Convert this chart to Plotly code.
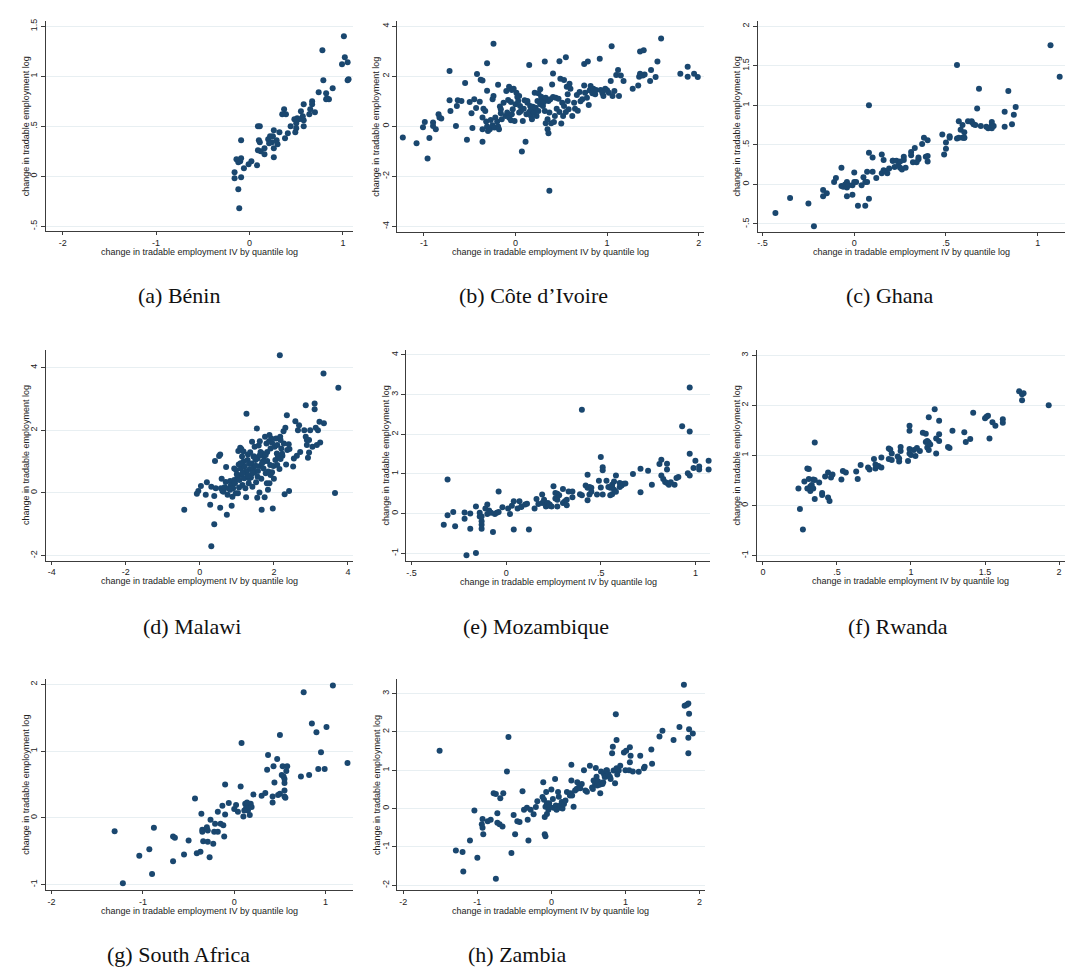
import plotly.graph_objects as go

# ---------------- data ----------------
benin_x = [1.01, 0.78, 1.02, 1.05, 0.99, 1.06, 1.05, 0.79, 0.89, 0.74, 0.82, 0.82, 0.85, 0.83, 0.67, 0.67, 0.58,
           0.37, 0.65, 0.70, 0.55, 0.64, 0.39, 0.35, 0.57, 0.51, 0.48, 0.53, 0.58, 0.50, 0.44, 0.58, 0.09, 0.11,
           0.50, 0.26, 0.32, 0.41, 0.49, 0.25, 0.22, 0.38, 0.20, 0.29, 0.10, -0.09, 0.24, 0.30, 0.11, 0.21, 0.12,
           0.16, 0.26, 0.09, 0.16, 0.26, 0.02, -0.01, 0.08, -0.09, -0.14, -0.10, -0.12, -0.06, -0.16, -0.09, -0.16,
           -0.12, -0.11]
benin_y = [1.40, 1.26, 1.19, 1.14, 1.12, 0.97, 0.96, 0.96, 0.88, 0.84, 0.83, 0.77, 0.77, 0.78, 0.75, 0.72, 0.72,
           0.67, 0.67, 0.64, 0.65, 0.62, 0.62, 0.62, 0.60, 0.58, 0.57, 0.57, 0.56, 0.53, 0.50, 0.50, 0.50, 0.50,
           0.48, 0.46, 0.44, 0.43, 0.44, 0.40, 0.40, 0.38, 0.37, 0.36, 0.36, 0.36, 0.34, 0.32, 0.34, 0.33, 0.25,
           0.28, 0.28, 0.26, 0.22, 0.19, 0.15, 0.12, 0.11, 0.18, 0.17, 0.15, 0.14, 0.08, 0.04, -0.01, -0.02,
           -0.13, -0.32]

civ_x = [-1.23, -1.08, -0.96, -0.94, -1.01, -0.99, -0.90, -0.90, -0.87, -0.84, -0.83, -0.81, -0.72, -0.72, -0.71,
         -0.65, -0.64, -0.63, -0.59, -0.55, -0.53, -0.50, -0.48, -0.47, -0.45, -0.43, -0.42, -0.39, -0.38, -0.36,
         -0.36, -0.36, -0.36, -0.35, -0.33, -0.31, -0.31, -0.32, -0.31, -0.30, -0.28, -0.27, -0.25, -0.25, -0.24,
         -0.24, -0.23, -0.22, -0.20, -0.19, -0.19, -0.18, -0.17, -0.16, -0.16, -0.15, -0.13, -0.11, -0.10, -0.09,
         -0.08, -0.07, -0.07, -0.05, -0.05, -0.04, -0.04, -0.03, -0.02, -0.01, 0.00, 0.01, 0.02, 0.03, 0.04, 0.04,
         0.05, 0.06, 0.07, 0.08, 0.09, 0.10, 0.11, 0.12, 0.13, 0.13, 0.15, 0.15, 0.16, 0.17, 0.17, 0.18, 0.19,
         0.20, 0.21, 0.22, 0.23, 0.24, 0.25, 0.25, 0.27, 0.27, 0.28, 0.29, 0.30, 0.31, 0.32, 0.32, 0.33, 0.33,
         0.35, 0.35, 0.36, 0.37, 0.36, 0.37, 0.38, 0.39, 0.40, 0.41, 0.41, 0.42, 0.43, 0.44, 0.45, 0.47, 0.48,
         0.48, 0.49, 0.50, 0.51, 0.52, 0.53, 0.53, 0.55, 0.55, 0.56, 0.57, 0.57, 0.58, 0.59, 0.60, 0.62, 0.64,
         0.65, 0.67, 0.68, 0.70, 0.71, 0.73, 0.75, 0.75, 0.76, 0.78, 0.79, 0.80, 0.81, 0.82, 0.84, 0.85, 0.87,
         0.88, 0.92, 0.93, 0.95, 0.96, 0.98, 1.00, 1.02, 1.04, 1.05, 1.06, 1.08, 1.10, 1.12, 1.13, 1.15, 1.18,
         1.28, 1.34, 1.35, 1.36, 1.36, 1.40, 1.39, 1.41, 1.47, 1.48, 1.53, 1.55, 1.59, 1.80, 1.88, 1.88, 1.95,
         1.99]
civ_y = [-0.45, -0.68, -1.29, -0.47, -0.04, 0.17, 0.15, 0.01, -0.12, 0.48, 0.35, 0.31, 2.21, 1.04, 0.61,
         0.01, 0.81, 1.04, 1.01, 1.73, -0.54, 0.97, 0.52, -0.07, 1.08, 0.73, 2.09, 0.98, 1.86, 1.83,
         -0.62, 0.35, -0.12, 0.70, 0.61, 1.42, 2.52, 0.19, -0.01, -0.19, -0.12, 0.25, 0.04, 1.08, 3.30,
         1.21, -0.05, 0.35, 0.19, 1.66, -0.01, -0.12, 0.79, 0.68, 0.52, 0.28, 0.94, 0.41, 1.41, 0.55,
         1.05, 0.35, 1.58, 0.24, 0.97, 1.45, 0.48, 0.68, 1.50, 0.21, 0.88, 1.34, 1.17, 1.01, 0.55, 1.21,
         0.81, 0.61, -1.01, 0.21, 0.70, 1.04, -0.62, 0.48, 0.94, 1.01, 0.57, 2.45, 0.81, 0.41, 0.68, 0.28, 0.78,
         0.55, 1.34, 0.74, 0.41, 1.01, 1.32, 0.61, 0.88, 1.48, 1.18, 1.01, 0.81, 0.97, 2.59, 0.61, 0.12, 1.14,
         0.28, -0.12, -0.28, -2.58, 1.01, 0.55, 1.08, 0.12, 1.67, 2.11, 1.17, 0.17, 0.41, 1.14, 0.70, 1.10, 2.60,
         0.57, 1.90, 0.11, 0.94, 0.41, 1.85, 0.81, 2.76, 0.57, 1.58, 1.01, 1.28, 0.68, 1.70, 1.50, 0.41, 0.94,
         0.70, 1.25, 0.62, 1.37, 1.00, 1.08, 2.49, 1.63, 1.34, 1.14, 2.59, 0.85, 1.44, 1.61, 1.32, 1.50, 1.28,
         1.45, 2.70, 1.45, 1.32, 1.21, 1.50, 1.44, 1.34, 1.81, 3.20, 1.21, 1.41, 2.05, 2.25, 1.21, 2.03, 1.81,
         1.50, 1.63, 1.98, 2.10, 2.99, 3.04, 2.03, 2.07, 1.81, 2.25, 1.97, 2.59, 3.51, 2.10, 2.38, 1.98, 2.10,
         1.97]

ghana_x = [-0.43, -0.35, -0.25, -0.22, -0.17, -0.17, -0.15, -0.11, -0.10, -0.07, -0.07, -0.06, -0.05, -0.04,
           -0.04, -0.04, -0.03, -0.01, -0.01, 0.00, 0.00, 0.01, 0.02, 0.04, 0.05, 0.06, 0.06, 0.07, 0.07, 0.08,
           0.08, 0.08, 0.10, 0.10, 0.12, 0.15, 0.15, 0.16, 0.16, 0.17, 0.18, 0.19, 0.21, 0.21, 0.22, 0.23, 0.24,
           0.25, 0.25, 0.26, 0.27, 0.27, 0.28, 0.31, 0.31, 0.32, 0.33, 0.34, 0.35, 0.35, 0.37, 0.38, 0.39, 0.40,
           0.40, 0.40, 0.48, 0.49, 0.50, 0.50, 0.52, 0.52, 0.56, 0.56, 0.57, 0.58, 0.59, 0.59, 0.60, 0.60, 0.60,
           0.57, 0.62, 0.64, 0.64, 0.65, 0.66, 0.67, 0.68, 0.69, 0.72, 0.73, 0.75, 0.75, 0.75, 0.76, 0.82, 0.82,
           0.84, 0.86, 0.87, 0.88, 1.07, 1.12]
ghana_y = [-0.36, -0.17, -0.24, -0.53, -0.15, -0.07, -0.11, 0.03, 0.08, 0.21, -0.02, -0.03, 0.00, 0.03,
           -0.04, -0.15, -0.01, -0.13, -0.01, 0.15, 0.03, 0.03, -0.27, -0.01, 0.09, 0.03, -0.27, 0.16, 0.03, 0.40,
           -0.18, 1.00, 0.34, 0.16, 0.08, 0.14, 0.38, 0.18, 0.31, 0.17, 0.14, 0.20, 0.30, 0.30, 0.22, 0.30, 0.24,
           0.29, 0.21, 0.19, 0.35, 0.31, 0.21, 0.41, 0.37, 0.28, 0.46, 0.28, 0.32, 0.34, 0.51, 0.59, 0.35, 0.29,
           0.56, 0.36, 0.63, 0.38, 0.53, 0.45, 0.59, 0.61, 1.51, 0.58, 0.59, 0.69, 0.75, 0.59, 0.59, 0.66, 0.59,
           0.80, 0.80, 0.79, 0.80, 0.76, 0.75, 0.96, 1.21, 0.74, 0.73, 0.71, 0.71, 0.79, 0.75, 0.74, 0.92, 0.73,
           1.18, 0.76, 0.88, 0.98, 1.76, 1.36]

malawi_x = [-0.42, -0.08, -0.04, 0.03, 0.19, 0.16, 0.28, 0.31, 0.31, 0.39, 0.39, 0.41, 0.43, 0.52, 0.55, 0.55,
            0.57, 0.59, 0.61, 0.64, 0.67, 0.71, 0.73, 0.75, 0.77, 0.82, 0.84, 0.86, 0.88, 0.90, 0.93, 0.95, 0.98,
            1.02, 1.03, 1.04, 1.05, 1.07, 1.09, 1.11, 1.12, 1.12, 1.14, 1.15, 1.18, 1.18, 1.20, 1.21, 1.23, 1.25,
            1.26, 1.27, 1.29, 1.30, 1.32, 1.33, 1.35, 1.38, 1.39, 1.41, 1.42, 1.44, 1.45, 1.47, 1.48, 1.50, 1.52,
            1.54, 1.55, 1.56, 1.57, 1.59, 1.61, 1.62, 1.63, 1.64, 1.66, 1.67, 1.69, 1.70, 1.72, 1.73, 1.75, 1.76,
            1.78, 1.80, 1.81, 1.82, 1.84, 1.85, 1.87, 1.88, 1.90, 1.91, 1.93, 1.95, 1.97, 1.99, 2.00, 2.02, 2.04,
            2.06, 2.08, 2.09, 2.11, 2.16, 2.15, 2.17, 2.18, 2.20, 2.23, 2.26, 2.27, 2.29, 2.31, 2.33, 2.35, 2.36,
            2.41, 2.42, 2.52, 2.54, 2.58, 2.62, 2.65, 2.68, 2.71, 2.82, 2.86, 2.86, 2.89, 2.89, 2.92, 2.95, 2.98,
            2.95, 3.04, 3.10, 3.10, 3.13, 3.16, 3.19, 3.23, 3.25, 3.34, 3.35, 3.65, 3.74,
            0.93, 1.24, 1.42, 1.51, 1.73, 1.91, 2.09, 1.47, 1.33, 1.06, 0.82, 0.97, 1.56, 1.82, 2.18, 1.78, 1.15,
            1.00, 1.36, 1.62, 1.88, 2.40, 0.70, 1.10, 1.95, 2.22, 1.30, 1.68]
malawi_y = [-0.54, -0.03, 0.06, 0.22, 0.34, -0.06, -0.38, 0.20, -1.70, -1.00, -0.10, 1.02, 0.15, 1.18, 1.23, -0.47,
            0.15, 0.45, 0.06, 0.04, 0.18, 0.83, -0.70, -0.06, 0.15, 0.38, 0.25, -0.41, -0.12, 0.15, 0.41, 0.31, 0.73,
            0.52, -0.01, 1.34, 0.91, 0.41, 1.44, 0.78, 1.40, 0.57, 1.16, 0.25, 1.32, 1.00, 0.47, 0.84, 0.15, -0.14,
            2.53, 0.63, 1.05, 1.23, 0.31, 0.94, 0.76, 0.49, 0.94, 1.63, 0.20, 0.78, 1.16, 0.66, 1.47, 1.05, 0.34,
            2.06, -0.15, 1.10, 0.70, 1.51, 0.01, 1.65, 0.86, 1.31, 0.45, -0.54, 1.26, 1.00, 0.78, 1.16, -0.14, 1.79,
            0.63, 1.58, 0.31, 1.02, 0.10, 0.68, 1.65, 0.31, 0.89, 1.42, 1.74, 0.66, -0.50, 0.86, 0.45, 1.47, 1.05,
            1.74, 1.26, 1.53, 1.16, 4.39, 0.76, 1.79, 1.08, 1.42, 1.19, 1.97, 1.58, -0.04, 2.08, 0.91, 2.48, 1.37,
            0.06, 1.40, 0.84, 1.10, 2.29, 1.19, 2.00, 2.16, 1.31, 2.00, 1.79, 2.80, 1.69, 1.53, 1.12, 1.29, 2.00,
            1.69, 1.47, 2.85, 2.67, 2.08, 1.53, 2.00, 2.27, 1.61, 3.81, 2.22, 0.00, 3.36,
            0.78, 0.68, 0.63, 0.87, 1.00, 0.57, 0.89, 1.16, 0.47, 0.17, 0.10, -0.01, 0.52, 1.31, 1.69, 1.21, 0.63,
            0.60, 1.30, 1.20, 1.85, 1.55, 0.35, 0.95, 1.60, 1.25, 0.55, 0.95]

mozambique_x = [-0.33, -0.31, -0.31, -0.28, -0.27, -0.22, -0.22, -0.21, -0.19, -0.19, -0.16, -0.16, -0.14, -0.14,
                -0.13, -0.13, -0.13, -0.13, -0.11, -0.10, -0.10, -0.09, -0.08, -0.07, -0.06, -0.05, -0.04, -0.04,
                -0.02, 0.01, 0.02, 0.03, 0.04, 0.04, 0.06, 0.07, 0.08, 0.08, 0.10, 0.11, 0.12, 0.15, 0.16, 0.17,
                0.19, 0.19, 0.20, 0.21, 0.22, 0.23, 0.23, 0.24, 0.25, 0.26, 0.26, 0.27, 0.27, 0.27, 0.28, 0.30,
                0.30, 0.31, 0.32, 0.32, 0.33, 0.35, 0.35, 0.39, 0.40, 0.40, 0.42, 0.43, 0.43, 0.43, 0.44, 0.44,
                0.45, 0.45, 0.48, 0.49, 0.50, 0.50, 0.51, 0.51, 0.51, 0.53, 0.54, 0.55, 0.55, 0.56, 0.56, 0.56,
                0.57, 0.57, 0.58, 0.58, 0.60, 0.60, 0.61, 0.62, 0.63, 0.67, 0.71, 0.71, 0.75, 0.77, 0.81, 0.82,
                0.82, 0.83, 0.84, 0.85, 0.85, 0.85, 0.86, 0.87, 0.89, 0.90, 0.91, 0.93, 0.96, 0.97, 0.97, 0.97,
                0.97, 0.99, 1.00, 1.02, 1.02, 1.07, 1.07]
mozambique_y = [-0.28, 0.86, -0.04, 0.04, -0.32, 0.03, -0.13, -1.05, -0.38, 0.00, -0.99, 0.18, 0.02, -0.07,
                -0.28, -0.38, -0.19, -0.07, 0.13, 0.23, -0.01, 0.08, 0.02, -0.46, -0.01, 0.02, 0.04, 0.56,
                0.16, 0.13, -0.01, 0.20, 0.31, -0.40, 0.13, 0.31, 0.17, 0.18, 0.23, 0.25, -0.40, 0.13, 0.37, 0.24,
                0.48, 0.27, 0.35, 0.18, 0.27, 0.20, 0.23, 0.18, 0.69, 0.52, 0.38, 0.18, 0.50, 0.35, 0.46, 0.27,
                0.62, 0.31, 0.21, 0.35, 0.56, 0.41, 0.56, 0.49, 0.46, 2.62, 0.71, 0.65, 0.98, 0.34, 0.48, 0.67,
                0.55, 0.65, 0.48, 0.83, 1.43, 0.66, 1.17, 1.09, 0.48, 0.83, 0.67, 0.46, 0.65, 0.49, 0.73, 0.67,
                0.81, 0.60, 0.96, 0.55, 0.77, 0.67, 0.71, 0.75, 0.76, 1.00, 0.54, 1.13, 1.08, 0.73, 1.25, 0.96,
                1.36, 0.87, 0.80, 0.77, 1.26, 1.11, 0.73, 0.79, 0.73, 0.90, 0.92, 2.20, 1.02, 2.07, 3.18, 1.51,
                0.96, 1.15, 1.33, 1.19, 1.11, 1.33, 1.11]

rwanda_x = [0.24, 0.25, 0.27, 0.28, 0.30, 0.31, 0.30, 0.31, 0.32, 0.32, 0.33, 0.34, 0.34, 0.35, 0.35, 0.35, 0.38,
            0.40, 0.40, 0.42, 0.44, 0.44, 0.45, 0.46, 0.47, 0.53, 0.54, 0.56, 0.63, 0.64, 0.66, 0.71, 0.72, 0.75,
            0.76, 0.76, 0.78, 0.80, 0.80, 0.85, 0.85, 0.86, 0.87, 0.87, 0.91, 0.92, 0.92, 0.93, 0.93, 0.98, 0.99,
            0.99, 0.99, 0.99, 1.00, 1.02, 1.03, 1.04, 1.06, 1.08, 1.10, 1.10, 1.11, 1.11, 1.12, 1.12, 1.12, 1.13,
            1.16, 1.17, 1.17, 1.19, 1.19, 1.19, 1.25, 1.26, 1.28, 1.36, 1.37, 1.40, 1.42, 1.50, 1.51, 1.52, 1.53,
            1.55, 1.57, 1.62, 1.62, 1.73, 1.75, 1.75, 1.76, 1.93]
rwanda_y = [0.34, -0.07, -0.48, 0.48, 0.74, 0.73, 0.34, 0.53, 0.29, 0.38, 0.41, 0.52, 0.34, 1.26, 0.13, 0.51, 0.46,
            0.25, 0.21, 0.58, 0.16, 0.66, 0.09, 0.56, 0.62, 0.52, 0.69, 0.66, 0.68, 0.53, 0.81, 0.76, 0.72, 0.93,
            0.82, 0.74, 0.79, 0.96, 0.76, 1.14, 0.93, 1.12, 1.04, 0.91, 0.98, 0.88, 0.94, 1.17, 1.09, 0.89, 1.04,
            1.13, 1.59, 1.49, 1.01, 1.11, 0.99, 1.15, 1.09, 1.45, 1.27, 1.43, 1.16, 1.29, 1.76, 1.11, 1.26, 1.22,
            1.92, 1.04, 1.34, 1.29, 1.42, 1.69, 1.17, 1.15, 1.49, 1.46, 1.27, 1.33, 1.85, 1.74, 1.77, 1.79, 1.34,
            1.66, 1.59, 1.72, 1.65, 2.28, 2.22, 2.10, 2.24, 2.00]

safrica_x = [-1.31, -1.22, -1.04, -0.93, -0.90, -0.88, -0.67, -0.67, -0.65, -0.55, -0.50, -0.43, -0.41, -0.37,
             -0.36, -0.35, -0.35, -0.34, -0.30, -0.29, -0.29, -0.27, -0.26, -0.23, -0.22, -0.21, -0.18, -0.18,
             -0.15, -0.13, -0.12, -0.11, -0.10, -0.10, -0.06, 0.00, 0.02, 0.04, 0.07, 0.08, 0.10, 0.11, 0.12, 0.13,
             0.14, 0.15, 0.16, 0.17, 0.18, 0.19, 0.14, 0.21, 0.30, 0.34, 0.36, 0.37, 0.42, 0.42, 0.43, 0.44, 0.47,
             0.48, 0.50, 0.50, 0.52, 0.53, 0.54, 0.55, 0.55, 0.55, 0.55, 0.56, 0.57, 0.58, 0.73, 0.76, 0.82, 0.85,
             0.90, 0.92, 0.95, 0.99, 1.01, 1.08, 1.24]
safrica_y = [-0.20, -0.98, -0.57, -0.47, -0.84, -0.15, -0.28, -0.65, -0.30, -0.55, -0.34, 0.29, -0.53, -0.51,
             0.06, -0.18, -0.21, -0.35, -0.14, -0.36, -0.19, -0.59, -0.03, -0.39, -0.21, -0.09, -0.21, 0.09,
             -0.09, 0.18, -0.11, -0.28, 0.05, 0.50, 0.22, 0.13, 0.19, 0.09, 0.47, 1.12, 0.02, 0.11, 0.21, 0.15,
             0.18, 0.11, 0.17, 0.04, 0.21, 0.16, 0.23, 0.35, 0.33, 0.37, 0.72, 0.94, 0.32, 0.23, 0.77, 0.53, 0.88,
             0.34, 0.36, 1.24, 0.64, 0.77, 0.62, 0.52, 0.58, 0.41, 0.32, 0.30, 0.70, 0.77, 0.62, 1.88, 0.64, 1.41,
             1.28, 0.73, 0.98, 0.73, 1.36, 1.98, 0.82]

zambia_x = [-1.51, -1.29, -1.20, -1.19, -1.10, -1.04, -1.00, -0.94, -0.93, -0.93, -0.92, -0.86, -0.82, -0.78,
            -0.75, -0.75, -0.73, -0.73, -0.70, -0.69, -0.66, -0.65, -0.60, -0.58, -0.54, -0.51, -0.49, -0.46,
            -0.43, -0.39, -0.37, -0.33, -0.32, -0.31, -0.28, -0.24, -0.21, -0.19, -0.12, -0.11, -0.10, -0.09,
            -0.09, -0.08, -0.08, -0.07, -0.06, -0.06, -0.04, -0.03, -0.02, 0.00, 0.02, 0.03, 0.05, 0.06, 0.07,
            0.09, 0.10, 0.11, 0.12, 0.14, 0.15, 0.17, 0.19, 0.21, 0.25, 0.26, 0.27, 0.27, 0.28, 0.30, 0.32, 0.34,
            0.35, 0.36, 0.38, 0.39, 0.41, 0.44, 0.46, 0.48, 0.52, 0.55, 0.56, 0.57, 0.59, 0.60, 0.61, 0.62, 0.63,
            0.65, 0.66, 0.67, 0.69, 0.70, 0.71, 0.72, 0.73, 0.74, 0.75, 0.77, 0.79, 0.80, 0.82, 0.83, 0.84, 0.86,
            0.87, 0.88, 0.88, 0.89, 0.91, 0.93, 0.98, 1.00, 1.01, 1.05, 1.06, 1.06, 1.07, 1.10, 1.18, 1.20, 1.25,
            1.26, 1.35, 1.36, 1.46, 1.50, 1.65, 1.73, 1.79, 1.80, 1.83, 1.85, 1.85, 1.85, 1.86, 1.86, 1.91]
zambia_y = [1.51, -1.09, -1.13, -1.64, -0.83, -0.05, -1.28, -0.41, -0.27, -0.50, -0.67, -0.33, -0.29, 0.40,
            -1.83, 0.38, -0.12, -0.37, -0.41, 0.27, -0.47, 0.40, 0.97, 1.87, -1.16, -0.17, -0.67, -0.33,
            -0.35, 0.45, -0.03, 0.02, -0.29, -0.83, -0.03, -0.15, 0.04, 0.19, 0.30, 0.69, 0.23, -0.22,
            -0.67, -0.72, 0.05, 0.43, 0.14, -0.14, -0.03, 0.14, 0.04, 0.50, 0.25, 0.02, 0.77, 0.08, -0.03,
            0.43, 0.31, 0.02, 0.08, 0.17, 0.00, 0.12, 0.21, 0.43, 0.34, 0.40, 1.14, 0.73, 0.34, 0.05, 0.47, 0.51,
            0.69, 0.53, 0.60, 0.53, 0.64, 1.00, 0.47, 0.44, 1.12, 0.55, 0.51, 0.73, 0.64, 1.06, 0.83, 0.60, 0.71,
            0.62, 0.40, 0.97, 0.64, 0.69, 0.90, 0.83, 0.83, 0.99, 1.00, 0.90, 0.83, 0.77, 1.44, 1.61, 0.99, 0.66,
            2.46, 1.79, 1.05, 0.89, 0.99, 1.12, 1.46, 1.00, 1.51, 1.00, 1.21, 1.60, 1.38, 0.97, 0.96, 1.38, 1.05,
            1.09, 1.54, 1.17, 1.88, 2.03, 1.79, 2.13, 3.23, 2.68, 2.71, 2.74, 1.85, 1.44, 2.47, 2.07, 1.96]

captions = ["(a) Bénin", "(b) Côte d’Ivoire", "(c) Ghana", "(d) Malawi",
            "(e) Mozambique", "(f) Rwanda", "(g) South Africa", "(h) Zambia"]

ticks_a_x, ticks_a_y = [-2, -1, 0, 1], [-0.5, 0, 0.5, 1, 1.5]
ticks_b_x, ticks_b_y = [-1, 0, 1, 2], [-4, -2, 0, 2, 4]
ticks_c_x, ticks_c_y = [-0.5, 0, 0.5, 1], [-0.5, 0, 0.5, 1, 1.5, 2]
ticks_d_x, ticks_d_y = [-4, -2, 0, 2, 4], [-2, 0, 2, 4]
ticks_e_x, ticks_e_y = [-0.5, 0, 0.5, 1], [-1, 0, 1, 2, 3, 4]
ticks_f_x, ticks_f_y = [0, 0.5, 1, 1.5, 2], [-1, 0, 1, 2, 3]
ticks_g_x, ticks_g_y = [-2, -1, 0, 1], [-1, 0, 1, 2]
ticks_h_x, ticks_h_y = [-2, -1, 0, 1, 2], [-2, -1, 0, 1, 2, 3]

x_title = "change in tradable employment IV by quantile log"
y_title = "change in tradable employment log"


def stata_label(v):
    s = ("%g" % v)
    if s.startswith("0."):
        s = s[1:]
    elif s.startswith("-0."):
        s = "-" + s[2:]
    return s


# ---------------- layout geometry (window pixels) ----------------
W, H = 1065, 972


def px(xp):
    return xp / W


def py(yp):
    return 1 - yp / H


panels = [
    # x-data, y-data, xticks, yticks, (left, right, top, bottom) px, xrange, yrange, ytitle x px, xtitle y px, caption (x, y)
    (benin_x, benin_y, ticks_a_x, ticks_a_y, (45, 352, 18.3, 229), (-2.179, 1.104), (-0.55, 1.55), 25, 250, (178, 293)),
    (civ_x, civ_y, ticks_b_x, ticks_b_y, (396.7, 704, 18.3, 229.3), (-1.29, 2.062), (-4.21, 4.2), 375.7, 250, (533, 293)),
    (ghana_x, ghana_y, ticks_c_x, ticks_c_y, (757.7, 1065, 18.3, 229.3), (-0.525, 1.149), (-0.596, 2.063), 736.7, 250, (890, 293)),
    (malawi_x, malawi_y, ticks_d_x, ticks_d_y, (45, 352, 348.3, 559.3), (-4.154, 4.127), (-2.159, 4.554), 25.7, 580, (191, 625)),
    (mozambique_x, mozambique_y, ticks_e_x, ticks_e_y, (405.7, 710, 348.3, 560), (-0.528, 1.079), (-1.201, 4.118), 385, 580.5, (536, 625)),
    (rwanda_x, rwanda_y, ticks_f_x, ticks_f_y, (756.7, 1065, 348.3, 559.3), (-0.040, 2.04), (-1.1, 3.1), 736.7, 580, (898, 625)),
    (safrica_x, safrica_y, ticks_g_x, ticks_g_y, (45, 352.3, 678.3, 890), (-2.062, 1.30), (-1.085, 2.075), 25, 910.5, (178, 954)),
    (zambia_x, zambia_y, ticks_h_x, ticks_h_y, (396.7, 704.3, 678.3, 890), (-2.081, 2.07), (-2.13, 3.374), 375.7, 910.5, (517, 954)),
]

NAVY = "#1a476f"
AXIS_COL = "#3c3c3c"
GRID_COL = "#e8eff2"
SANS = "Liberation Sans, Arial, sans-serif"
SERIF = "Liberation Serif, Times New Roman, serif"

fig = go.Figure()
layout = dict(
    width=W, height=H,
    margin=dict(l=0, r=0, t=0, b=0),
    paper_bgcolor="white", plot_bgcolor="white",
    showlegend=False,
    annotations=[],
)

for i, (xs, ys, xt, yt, box, xr, yr, ytx, xty, cap) in enumerate(panels):
    n = "" if i == 0 else str(i + 1)
    left, right, top, bottom = box
    fig.add_trace(go.Scatter(
        x=xs, y=ys, mode="markers",
        marker=dict(color=NAVY, size=6, line=dict(width=0)),
        xaxis="x" + n, yaxis="y" + n, hoverinfo="x+y",
        cliponaxis=False,
    ))
    layout["xaxis" + n] = dict(
        domain=[px(left), min(px(right), 1.0)], range=list(xr), anchor="y" + n,
        showline=True, linecolor=AXIS_COL, linewidth=1.2, mirror=False,
        showgrid=False, zeroline=False,
        ticks="outside", ticklen=3, tickwidth=1, tickcolor=AXIS_COL,
        tickmode="array", tickvals=xt, ticktext=[stata_label(v) for v in xt],
        tickfont=dict(family=SANS, size=9, color="#222"),
        ticklabeloverflow="allow",
    )
    layout["yaxis" + n] = dict(
        domain=[py(bottom), py(top)], range=list(yr), anchor="x" + n,
        showline=True, linecolor=AXIS_COL, linewidth=1.2, mirror=False,
        showgrid=True, gridcolor=GRID_COL, gridwidth=1, zeroline=False,
        ticks="outside", ticklen=4, tickwidth=1, tickcolor=AXIS_COL,
        tickmode="array", tickvals=yt, ticktext=[stata_label(v) for v in yt],
        tickangle=-90,
        tickfont=dict(family=SANS, size=9, color="#222"),
    )
    layout["annotations"].append(dict(
        text=x_title, xref="paper", yref="paper",
        x=px((left + right) / 2), y=py(xty), xanchor="center", yanchor="middle",
        showarrow=False, font=dict(family=SANS, size=9, color="#222"),
    ))
    layout["annotations"].append(dict(
        text=y_title, xref="paper", yref="paper", textangle=-90,
        x=px(ytx), y=py((top + bottom) / 2), xanchor="center", yanchor="middle",
        showarrow=False, font=dict(family=SANS, size=9, color="#222"),
    ))
    layout["annotations"].append(dict(
        text=captions[i], xref="paper", yref="paper",
        x=px(cap[0]), y=py(cap[1]), xanchor="center", yanchor="middle",
        showarrow=False, font=dict(family=SERIF, size=22, color="#111"),
    ))

fig.update_layout(**layout)
fig.write_html(
    "out.html",
    config={"displayModeBar": False},
    post_script="document.body.style.margin='0';document.body.style.padding='0';"
                "document.documentElement.style.overflow='hidden';",
)
